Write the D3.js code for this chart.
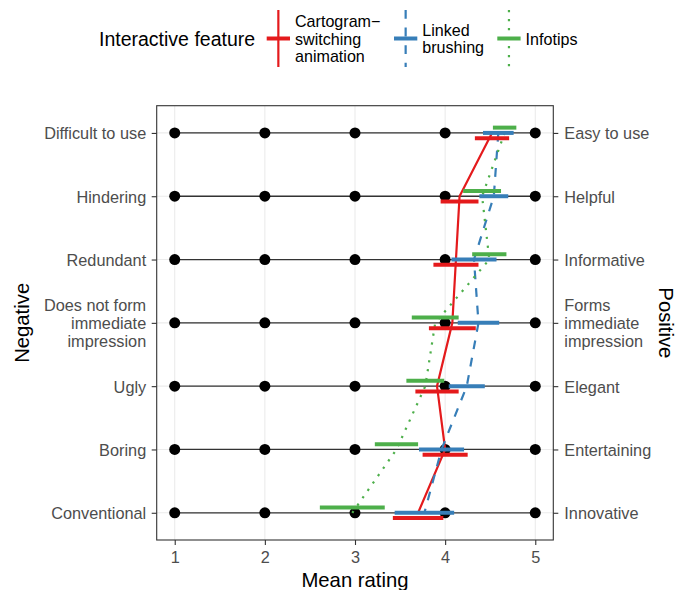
<!DOCTYPE html>
<html>
<head>
<meta charset="utf-8">
<script src="https://cdn.jsdelivr.net/npm/d3@7"></script>
<style>
  html, body { margin: 0; padding: 0; background: #ffffff; }
  svg { display: block; font-family: "Liberation Sans", Arial, Helvetica, sans-serif; }
</style>
</head>
<body>
<svg id="chart" width="678" height="590"></svg>
<script>
// Semantic differential pairs (top to bottom)
const negativeLabels = ["Difficult to use", "Hindering", "Redundant", "Does not form\nimmediate\nimpression", "Ugly", "Boring", "Conventional"];
const positiveLabels = ["Easy to use", "Helpful", "Informative", "Forms\nimmediate\nimpression", "Elegant", "Entertaining", "Innovative"];
const scalePoints = [1, 2, 3, 4, 5];

// Interactive features
const features = ["Cartogram\u2212\nswitching\nanimation", "Linked\nbrushing", "Infotips"];

// Mean ratings and confidence half-widths, one entry per pair
const cartogramMean = [4.52, 4.16, 4.12, 4.08, 3.91, 4.00, 3.70];
const cartogramCI   = [0.19, 0.21, 0.25, 0.26, 0.24, 0.25, 0.28];
const brushingMean  = [4.59, 4.54, 4.32, 4.37, 4.24, 3.96, 3.77];
const brushingCI    = [0.17, 0.16, 0.25, 0.23, 0.20, 0.25, 0.33];
const infotipsMean  = [4.66, 4.41, 4.49, 3.89, 3.78, 3.46, 2.97];
const infotipsCI    = [0.13, 0.21, 0.19, 0.26, 0.21, 0.24, 0.36];

const series = [
  { name: features[0], mean: cartogramMean, ci: cartogramCI, color: "#E41A1C", dash: null,      dodge: 5.3 },
  { name: features[1], mean: brushingMean,  ci: brushingCI,  color: "#377EB8", dash: "8.8,8.8", dodge: 0 },
  { name: features[2], mean: infotipsMean,  ci: infotipsCI,  color: "#4DAF4A", dash: "2.2,6.8", dodge: -5.3 }
];

const svg = d3.select("#chart");
const panel = { left: 156.7, right: 553.3, top: 105.7, bottom: 540 };
const textGrey = "#4D4D4D";
const axisFont = 16.3;
const titleFont = 20.3;

const x = d3.scaleLinear().domain([0.8, 5.2]).range([panel.left, panel.right]);
const y = d3.scalePoint().domain(d3.range(negativeLabels.length))
  .range([panel.top, panel.bottom]).padding(0.43);

// grid
const grid = svg.append("g");
grid.selectAll("line.v").data(scalePoints).join("line")
  .attr("x1", d => x(d)).attr("x2", d => x(d))
  .attr("y1", panel.top).attr("y2", panel.bottom)
  .attr("stroke", "#EBEBEB").attr("stroke-width", 1.1);
grid.selectAll("line.h").data(y.domain()).join("line")
  .attr("x1", panel.left).attr("x2", panel.right)
  .attr("y1", d => y(d)).attr("y2", d => y(d))
  .attr("stroke", "#EBEBEB").attr("stroke-width", 1.1);

// rating scale rails with their five points
const rails = svg.append("g");
rails.selectAll("line").data(y.domain()).join("line")
  .attr("x1", x(1)).attr("x2", x(5))
  .attr("y1", d => y(d)).attr("y2", d => y(d))
  .attr("stroke", "#333333").attr("stroke-width", 1.3);
rails.selectAll("circle")
  .data(y.domain().flatMap(r => scalePoints.map(p => ({ r, p }))))
  .join("circle")
  .attr("cx", d => x(d.p)).attr("cy", d => y(d.r)).attr("r", 5.5)
  .attr("fill", "#000");

// connecting lines through the means (on the rail)
const toPoints = s => s.mean.map((m, i) => ({ m, ci: s.ci[i], i }));
const lineGen = d3.line().x(d => x(d.m)).y(d => y(d.i));
const linesG = svg.append("g");
series.forEach(s => {
  linesG.append("path").datum(toPoints(s)).attr("d", lineGen)
    .attr("fill", "none").attr("stroke", s.color).attr("stroke-width", 2.2)
    .attr("stroke-dasharray", s.dash);
});

// confidence bars, dodged vertically per feature
series.forEach(s => {
  svg.append("g").selectAll("line").data(toPoints(s)).join("line")
    .attr("x1", d => x(d.m - d.ci)).attr("x2", d => x(d.m + d.ci))
    .attr("y1", d => y(d.i) + s.dodge).attr("y2", d => y(d.i) + s.dodge)
    .attr("stroke", s.color).attr("stroke-width", 4);
});

// panel border
svg.append("rect")
  .attr("x", panel.left).attr("y", panel.top)
  .attr("width", panel.right - panel.left).attr("height", panel.bottom - panel.top)
  .attr("fill", "none").attr("stroke", "#333333").attr("stroke-width", 1.1);

// x axis
const xAxis = svg.append("g").attr("transform", `translate(0,${panel.bottom})`)
  .call(d3.axisBottom(x).tickValues(scalePoints).tickSize(5).tickPadding(6).tickFormat(d3.format("d")));
xAxis.select(".domain").remove();
xAxis.selectAll(".tick line").attr("stroke", "#333333").attr("stroke-width", 1.1);
xAxis.selectAll(".tick text").attr("fill", textGrey).attr("font-size", axisFont)
  .attr("font-family", "Liberation Sans, Arial, sans-serif");

// multi-line tick labels
function multiline(sel, labels, anchor) {
  sel.selectAll(".tick text").each(function (d) {
    const t = d3.select(this).text(null).attr("text-anchor", anchor).attr("dy", null)
      .attr("fill", textGrey).attr("font-size", axisFont)
      .attr("font-family", "Liberation Sans, Arial, sans-serif");
    const lines = labels[d].split("\n");
    const lh = 17.8;
    lines.forEach((ln, k) => {
      t.append("tspan").attr("x", t.attr("x"))
        .attr("y", (k - (lines.length - 1) / 2) * lh + 5.9)
        .text(ln);
    });
  });
}

const yLeft = svg.append("g").attr("transform", `translate(${panel.left},0)`)
  .call(d3.axisLeft(y).tickSize(5).tickPadding(5.5));
yLeft.select(".domain").remove();
yLeft.selectAll(".tick line").attr("stroke", "#333333").attr("stroke-width", 1.1);
multiline(yLeft, negativeLabels, "end");

const yRight = svg.append("g").attr("transform", `translate(${panel.right},0)`)
  .call(d3.axisRight(y).tickSize(5).tickPadding(6));
yRight.select(".domain").remove();
yRight.selectAll(".tick line").attr("stroke", "#333333").attr("stroke-width", 1.1);
multiline(yRight, positiveLabels, "start");

// axis titles
const midY = (panel.top + panel.bottom) / 2;
svg.append("text").attr("x", (panel.left + panel.right) / 2).attr("y", 586.5)
  .attr("text-anchor", "middle").attr("font-size", titleFont).text("Mean rating");
svg.append("text").attr("transform", `translate(29,${midY}) rotate(-90)`)
  .attr("text-anchor", "middle").attr("font-size", titleFont).text("Negative");
svg.append("text").attr("transform", `translate(659,${midY}) rotate(90)`)
  .attr("text-anchor", "middle").attr("font-size", titleFont).text("Positive");

// legend
const legend = svg.append("g");
legend.append("text").attr("x", 99).attr("y", 45.7).attr("font-size", 19.5)
  .text("Interactive feature");
const keyX = [266.7, 394, 497.3];
const keyW = 23.3, keyTop = 10, keyBottom = 67, keyMid = 38.5;
series.forEach((s, i) => {
  const k = legend.append("g").attr("transform", `translate(${keyX[i]},0)`);
  k.append("line").attr("x1", keyW / 2).attr("x2", keyW / 2)
    .attr("y1", keyTop).attr("y2", keyBottom)
    .attr("stroke", s.color).attr("stroke-width", 2.2).attr("stroke-dasharray", s.dash);
  k.append("line").attr("x1", 0).attr("x2", keyW).attr("y1", keyMid).attr("y2", keyMid)
    .attr("stroke", s.color).attr("stroke-width", 4);
  const lines = s.name.split("\n");
  const t = k.append("text").attr("font-size", 16.1);
  lines.forEach((ln, j) => {
    t.append("tspan").attr("x", keyW + 5)
      .attr("y", keyMid + 6 + (j - (lines.length - 1) / 2) * 17.8).text(ln);
  });
});
</script>
</body>
</html>
